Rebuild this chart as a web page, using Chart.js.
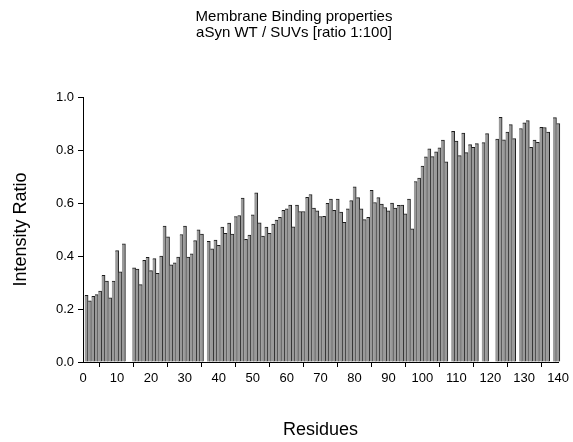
<!DOCTYPE html>
<html>
<head>
<meta charset="utf-8">
<title>Membrane Binding properties</title>
<script src="https://cdn.jsdelivr.net/npm/chart.js@4.4.1/dist/chart.umd.min.js"></script>
<style>
  html, body { margin: 0; padding: 0; background: #ffffff; }
  canvas { display: block; }
</style>
</head>
<body>
<canvas id="binding-chart" width="573" height="442"></canvas>
<script>
// ===== DATA =====
const TITLE_LINES = ['Membrane Binding properties', 'aSyn WT / SUVs [ratio 1:100]'];

// intensity ratio per residue 1..140 (null = residue not observed)
const ratios = [
    0.252, 0.231, 0.248, 0.254, 0.268, 0.327, 0.305, 0.242, 0.305, 0.420,   // 1-10
    0.340, 0.446, null,  null,  0.355, 0.351, 0.292, 0.384, 0.395, 0.345,   // 11-20
    0.390, 0.335, 0.400, 0.513, 0.472, 0.367, 0.374, 0.396, 0.481, 0.513,   // 21-30
    0.396, 0.408, 0.458, 0.499, 0.483, null,  0.455, 0.427, 0.460, 0.440,   // 31-40
    0.509, 0.486, 0.524, 0.483, 0.549, 0.553, 0.619, 0.463, 0.479, 0.555,   // 41-50
    0.638, 0.525, 0.475, 0.509, 0.486, 0.520, 0.536, 0.546, 0.572, 0.578,   // 51-60
    0.592, 0.510, 0.592, 0.568, 0.568, 0.621, 0.632, 0.581, 0.570, 0.549,   // 61-70
    0.550, 0.599, 0.615, 0.572, 0.615, 0.566, 0.527, 0.578, 0.609, 0.661,   // 71-80
    0.620, 0.578, 0.537, 0.546, 0.648, 0.602, 0.620, 0.596, 0.583, 0.570,   // 81-90
    0.600, 0.581, 0.591, 0.592, 0.559, 0.615, 0.503, 0.681, 0.694, 0.739,   // 91-100
    0.774, 0.804, 0.775, 0.793, 0.808, 0.837, 0.755, null,  0.870, 0.834,   // 101-110
    0.779, 0.864, 0.790, 0.820, 0.810, 0.824, null,  0.828, 0.862, null,    // 111-120
    null,  0.841, 0.923, 0.838, 0.868, 0.896, 0.843, null,  0.881, 0.903,   // 121-130
    0.911, 0.810, 0.837, 0.829, 0.886, 0.885, 0.868, null,  0.922, 0.900    // 131-140
];
const residues = ratios.map((_, i) => i + 1);

const X_MIN = 0, X_MAX = 140, X_STEP = 10;
const Y_MIN = 0, Y_MAX = 1, Y_STEP = 0.2;

const FONT = '"Liberation Sans", Arial, sans-serif';

// ===== TITLE (two lines, drawn a bit right of canvas centre like the original) =====
const titlePlugin = {
    id: 'twoLineTitle',
    afterDraw(chart) {
        const ctx = chart.ctx;
        ctx.save();
        ctx.fillStyle = '#000';
        ctx.font = '15px ' + FONT;
        ctx.textAlign = 'center';
        ctx.textBaseline = 'alphabetic';
        TITLE_LINES.forEach((line, i) => ctx.fillText(line, 294, 21 + i * 15.5));
        ctx.restore();
    }
};

// ===== CHART =====
function renderChart() {
    const ctx = document.getElementById('binding-chart').getContext('2d');
    new Chart(ctx, {
        type: 'bar',
        data: {
            datasets: [{
                data: residues.map((r, i) => ({ x: r, y: ratios[i] })),
                backgroundColor: '#9a9a9a',
                borderColor: '#1c1c1c',
                borderWidth: { top: 1, right: 1, bottom: 0, left: 0 },
                barPercentage: 1,
                categoryPercentage: 1,
                clip: false
            }]
        },
        options: {
            responsive: false,
            animation: false,
            layout: { padding: { top: 97, right: 14, bottom: 0, left: 0 } },
            plugins: { legend: { display: false }, tooltip: { enabled: false }, title: { display: false } },
            scales: {
                x: {
                    type: 'linear',
                    min: X_MIN,
                    max: X_MAX,
                    offset: false,
                    afterFit: s => { s.height = 80; },
                    border: { display: true, color: '#000', width: 1 },
                    grid: { display: true, drawOnChartArea: false, drawTicks: true, tickLength: 5, color: '#000' },
                    ticks: { stepSize: X_STEP, color: '#000', font: { family: FONT, size: 13 }, padding: 4, maxRotation: 0, autoSkip: false },
                    title: { display: true, text: 'Residues', color: '#000', font: { family: FONT, size: 18 }, padding: { top: 0, bottom: 1 } }
                },
                y: {
                    min: Y_MIN,
                    max: Y_MAX,
                    afterFit: s => { s.width = 83; },
                    border: { display: true, color: '#000', width: 1 },
                    grid: { display: true, drawOnChartArea: false, drawTicks: true, tickLength: 5, color: '#000' },
                    ticks: { stepSize: Y_STEP, color: '#000', font: { family: FONT, size: 13 }, padding: 4, callback: v => v.toFixed(1) },
                    title: { display: true, text: 'Intensity Ratio', color: '#000', font: { family: FONT, size: 18 }, padding: { top: 10, bottom: 0 } }
                }
            }
        },
        plugins: [titlePlugin]
    });
}

renderChart();
</script>
</body>
</html>
